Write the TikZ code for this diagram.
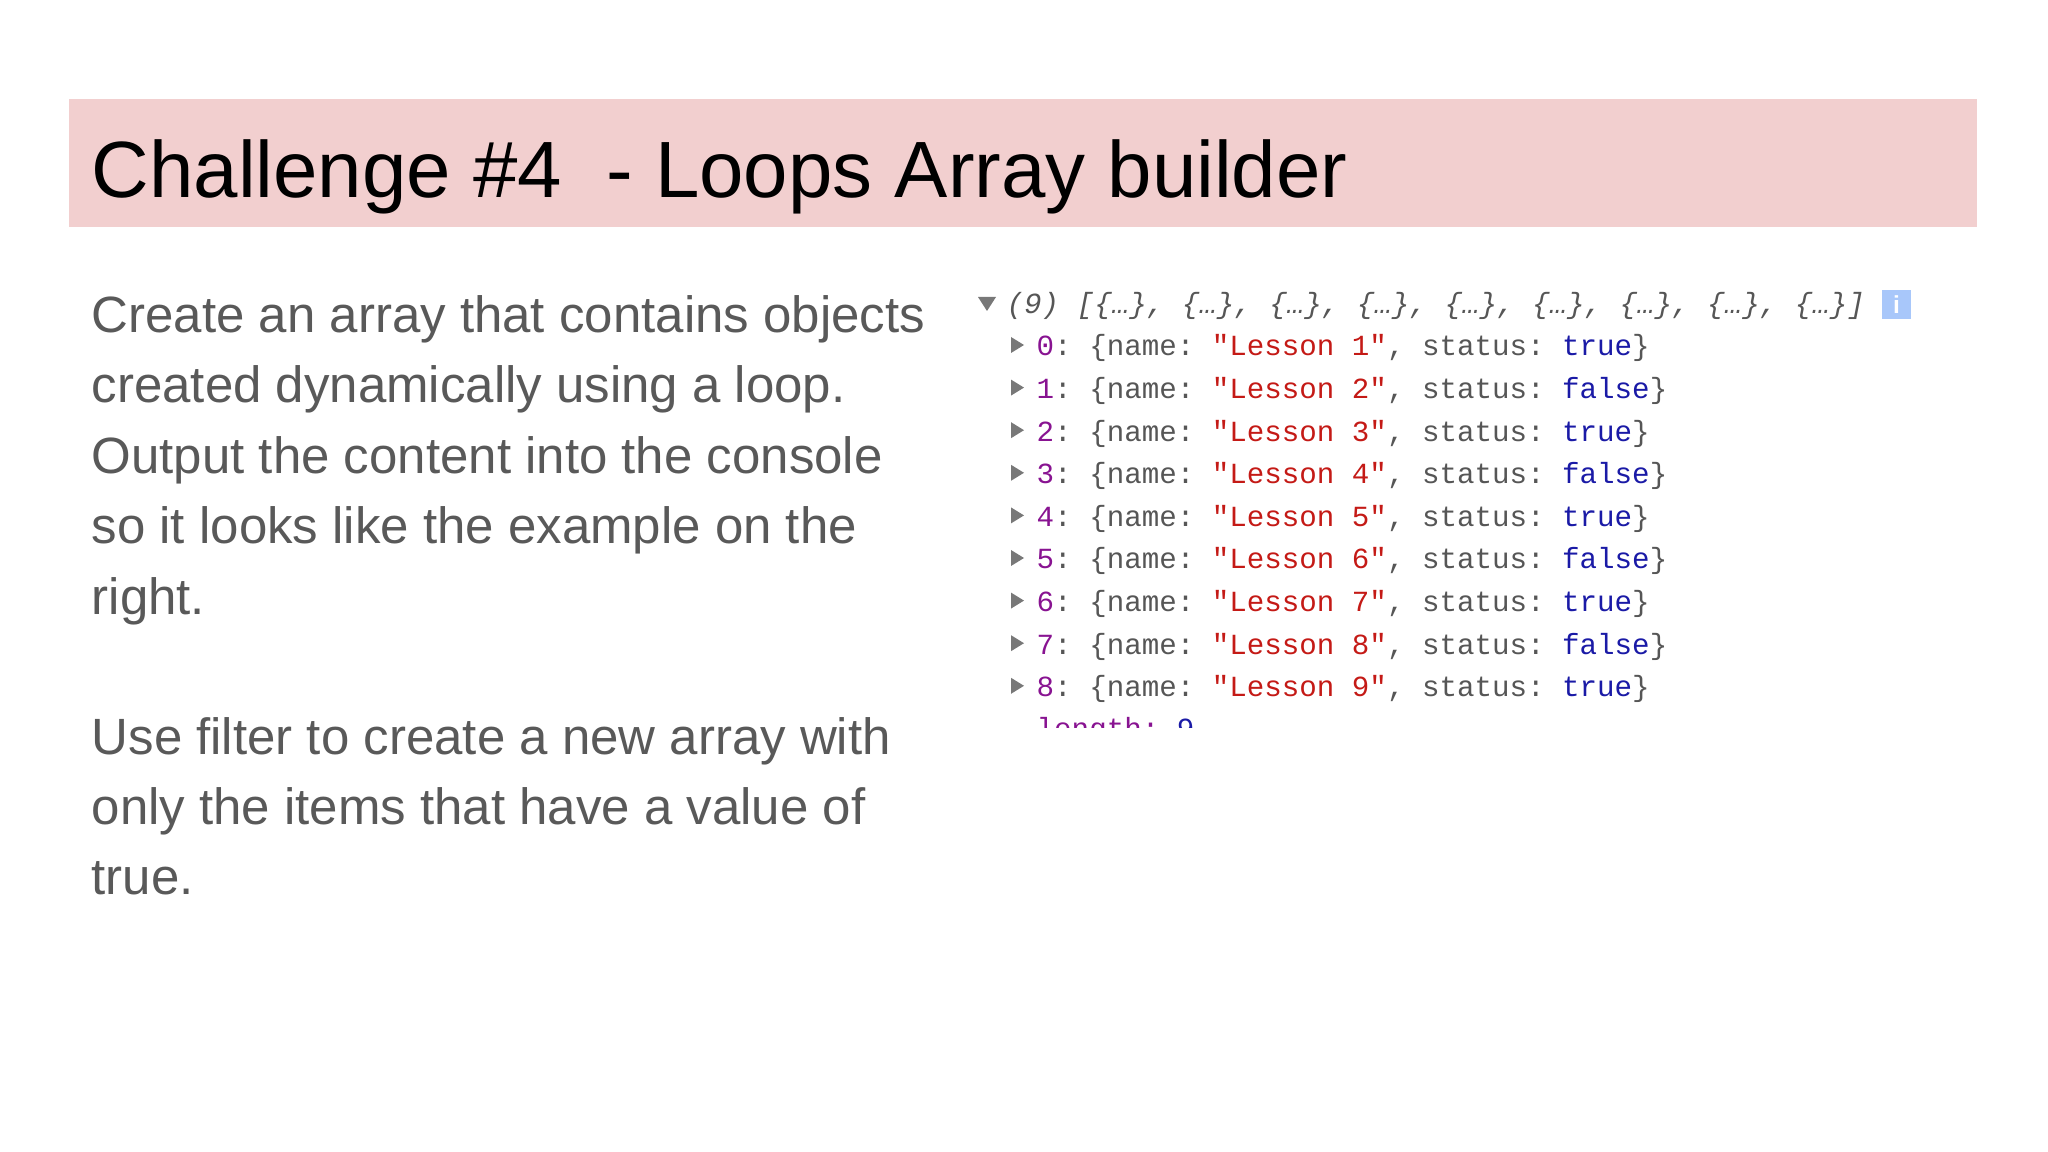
\documentclass[tikz,border=0pt]{standalone}
\usepackage{fontspec}
\setmainfont{Liberation Sans}
\setmonofont{Liberation Mono}
\definecolor{band}{HTML}{F2CFCF}
\definecolor{body}{HTML}{595959}
\definecolor{idx}{HTML}{881391}
\definecolor{str}{HTML}{C41A16}
\definecolor{key}{HTML}{565656}
\definecolor{bool}{HTML}{1A1AA6}
\definecolor{info}{HTML}{A8C7FA}
\tikzset{
  title/.style={anchor=base west,inner sep=0pt,font=\fontsize{22.7}{27}\selectfont},
  bodytxt/.style={anchor=base west,inner sep=0pt,text=body,font=\fontsize{14.5}{17}\selectfont},
  con/.style={anchor=base west,inner sep=0pt,text=key,font=\ttfamily\fontsize{8.3}{10}\selectfont},
  tri/.style={fill=key!80}
}
\newcommand{\crow}[3]{\textcolor{idx}{#1}: \{name: \textcolor{str}{"Lesson #2"}, status: \textcolor{bool}{#3}\}}
\begin{document}
\begin{tikzpicture}[x=0.01cm,y=-0.01cm]
\useasboundingbox (0,0) rectangle (2048,1152);
\fill[band] (69,99) rectangle (1977,227);
\node[title] (t) at (91,198) {Challenge \#4\ \ - Loops Array builder};
\foreach \y/\s [count=\i] in {333/Create an array that contains objects,403/created dynamically using a loop.,474/Output the content into the console,544/so it looks like the example on the,614/right.,754/Use filter to create a new array with,824/only the items that have a value of,894/true.}
  \node[bodytxt] (b\i) at (91,\y) {\s};
% console
\fill[tri] (978,297) -- (996,297) -- (987,311) -- cycle;
\node[con] (h) at (1006,314) {\itshape(9) [\{…\}, \{…\}, \{…\}, \{…\}, \{…\}, \{…\}, \{…\}, \{…\}, \{…\}]};
\fill[info] (1882,290) rectangle (1911,319);
\node[text=white,font=\bfseries\fontsize{7}{8}\selectfont,inner sep=0pt] (i) at (1896.5,304.5) {i};
\foreach \n/\b [count=\k from 0] in {1/true,2/false,3/true,4/false,5/true,6/false,7/true,8/false,9/true}{
  \pgfmathsetmacro{\yy}{356+42.6*\k}
  \fill[tri] (1011,\yy-19) -- (1011,\yy-3) -- (1024,\yy-11) -- cycle;
  \node[con] (r\k) at (1036,\yy) {\crow{\k}{\n}{\b}};
}
\begin{scope}
\clip (1000,700) rectangle (1300,727);
\node[con,text=idx] (len) at (1036,738) {length: \textcolor{bool}{9}};
\end{scope}
\end{tikzpicture}
\end{document}
